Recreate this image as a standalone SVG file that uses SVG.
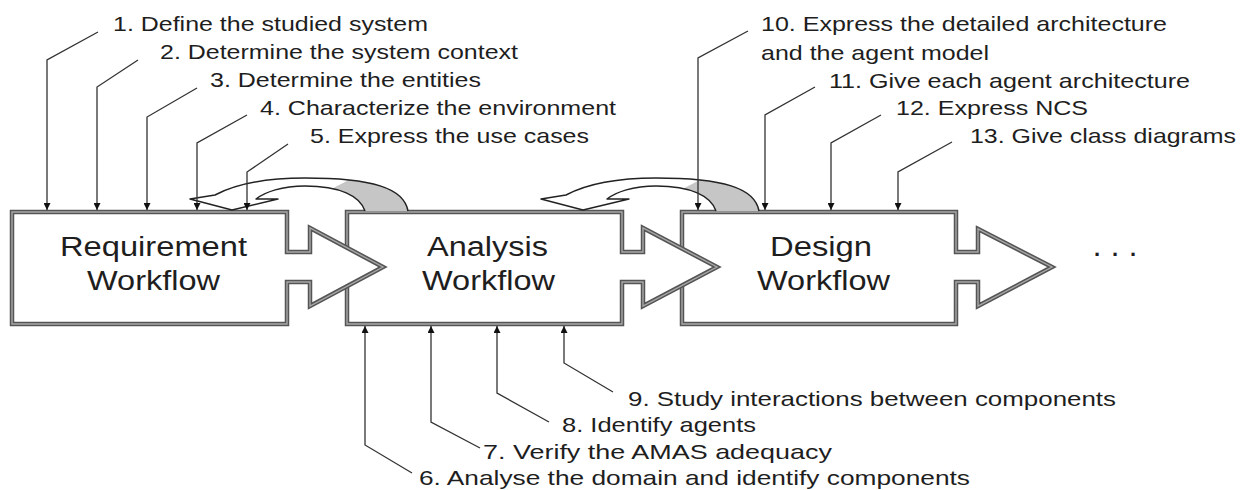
<svg xmlns="http://www.w3.org/2000/svg" width="1254" height="490" viewBox="0 0 1254 490">
<style>
.bo{fill:#fff;stroke:#555;stroke-width:4.5;stroke-linejoin:miter}
.bi{fill:none;stroke:#a8a8a8;stroke-width:1.4;stroke-linejoin:miter}
.t{font-family:"Liberation Sans",Arial,sans-serif;fill:#1e1e1e}
.lbl{font-size:21px}
.ttl{font-size:27px}
.lead{fill:none;stroke:#333;stroke-width:1.3}
.band{fill:#fff;stroke:none}
.shade{fill:#c6c6c6;stroke:none}
.bandline{fill:none;stroke:#222;stroke-width:1.5;stroke-linejoin:round}
</style>
<defs>
<marker id="ah" viewBox="0 0 10 10" refX="10" refY="5" markerWidth="9" markerHeight="7" markerUnits="userSpaceOnUse" orient="auto"><path d="M0,0 L10,5 L0,10 Z" fill="#111"/></marker>
<g id="curved">
<path class="band" d="M408,211 C404,188 372,178 305,178 C262,178 232,186 215,195 L190,199 L232,210 L278,199 L256,199 C265,192 282,186 305,186 C340,186 360,196 365,211 Z"/>
<path class="shade" d="M365,211 C361.5,200.5 350.65,192.45 332.4,188.6 L348.8,179.9 C386.25,183.8 405,193.75 408,211 Z"/>
<path class="bandline" d="M408,211 C404,188 372,178 305,178 C262,178 232,186 215,195 L190,199 L232,210 L278,199 L256,199 C265,192 282,186 305,186 C340,186 360,196 365,211"/>
</g>
</defs>

<g id="design">
<path class="bo" d="M682,212 H956 V252 H978 V229 L1052,267 L978,306 V282 H956 V324 H682 Z"/>
<path class="bi" d="M682,212 H956 V252 H978 V229 L1052,267 L978,306 V282 H956 V324 H682 Z"/>
<text class="t ttl" x="770" y="256" textLength="102" lengthAdjust="spacingAndGlyphs">Design</text>
<text class="t ttl" x="757" y="290" textLength="133" lengthAdjust="spacingAndGlyphs">Workflow</text>
</g>
<g id="analysis">
<path class="bo" d="M347,212 H622 V252 H643 V228 L717,267 L643,306 V282 H622 V324 H347 Z"/>
<path class="bi" d="M347,212 H622 V252 H643 V228 L717,267 L643,306 V282 H622 V324 H347 Z"/>
<text class="t ttl" x="427" y="256" textLength="121" lengthAdjust="spacingAndGlyphs">Analysis</text>
<text class="t ttl" x="422" y="290" textLength="133" lengthAdjust="spacingAndGlyphs">Workflow</text>
</g>
<g id="requirement">
<path class="bo" d="M12,212 H287 V252 H310 V228 L383,267 L310,306 V282 H287 V324 H12 Z"/>
<path class="bi" d="M12,212 H287 V252 H310 V228 L383,267 L310,306 V282 H287 V324 H12 Z"/>
<text class="t ttl" x="60" y="256" textLength="187" lengthAdjust="spacingAndGlyphs">Requirement</text>
<text class="t ttl" x="87" y="290" textLength="133" lengthAdjust="spacingAndGlyphs">Workflow</text>
</g>
<g id="ellipsis">
<text class="t" x="1094" y="256" font-size="22" font-weight="bold" textLength="42" lengthAdjust="spacing">. . .</text>
</g>

<g id="feedback-analysis-to-requirement">
<use href="#curved"/>
</g>
<g id="feedback-design-to-analysis">
<use href="#curved" transform="translate(351,0)"/>
</g>

<g id="connectors">
<path class="lead" marker-end="url(#ah)" d="M98,32 L47,60 L47,210"/>
<path class="lead" marker-end="url(#ah)" d="M138,60 L97,87 L97,210"/>
<path class="lead" marker-end="url(#ah)" d="M197,88 L147,117 L147,210"/>
<path class="lead" marker-end="url(#ah)" d="M247,115 L197,143 L197,210"/>
<path class="lead" marker-end="url(#ah)" d="M288,144 L247,172 L247,210"/>
<path class="lead" marker-end="url(#ah)" d="M748,31 L698,58 L698,210"/>
<path class="lead" marker-end="url(#ah)" d="M815,87 L765,115 L765,210"/>
<path class="lead" marker-end="url(#ah)" d="M881,115 L831,143 L831,210"/>
<path class="lead" marker-end="url(#ah)" d="M952,142 L898,172 L898,210"/>
<path class="lead" marker-end="url(#ah)" d="M613,392 L564,363 L564,326"/>
<path class="lead" marker-end="url(#ah)" d="M549,422 L497,393 L497,326"/>
<path class="lead" marker-end="url(#ah)" d="M480,448 L431,422 L431,326"/>
<path class="lead" marker-end="url(#ah)" d="M412,473 L365,445 L365,326"/>
</g>

<g id="labels">
<text class="t lbl" x="113" y="31" textLength="315" lengthAdjust="spacingAndGlyphs">1. Define the studied system</text>
<text class="t lbl" x="160" y="59" textLength="358" lengthAdjust="spacingAndGlyphs">2. Determine the system context</text>
<text class="t lbl" x="210" y="87" textLength="271" lengthAdjust="spacingAndGlyphs">3. Determine the entities</text>
<text class="t lbl" x="260" y="115" textLength="356" lengthAdjust="spacingAndGlyphs">4. Characterize the environment</text>
<text class="t lbl" x="310" y="143" textLength="279" lengthAdjust="spacingAndGlyphs">5. Express the use cases</text>
<text class="t lbl" x="761" y="31" textLength="406" lengthAdjust="spacingAndGlyphs">10. Express the detailed architecture</text>
<text class="t lbl" x="761" y="60" textLength="228" lengthAdjust="spacingAndGlyphs">and the agent model</text>
<text class="t lbl" x="829" y="88" textLength="361" lengthAdjust="spacingAndGlyphs">11. Give each agent architecture</text>
<text class="t lbl" x="896" y="115" textLength="192" lengthAdjust="spacingAndGlyphs">12. Express NCS</text>
<text class="t lbl" x="970" y="143" textLength="266" lengthAdjust="spacingAndGlyphs">13. Give class diagrams</text>
<text class="t lbl" x="628" y="406" textLength="488" lengthAdjust="spacingAndGlyphs">9. Study interactions between components</text>
<text class="t lbl" x="562" y="432" textLength="194" lengthAdjust="spacingAndGlyphs">8. Identify agents</text>
<text class="t lbl" x="483" y="459" textLength="349" lengthAdjust="spacingAndGlyphs">7. Verify the AMAS adequacy</text>
<text class="t lbl" x="419" y="485" textLength="551" lengthAdjust="spacingAndGlyphs">6. Analyse the domain and identify components</text>
</g>
</svg>
